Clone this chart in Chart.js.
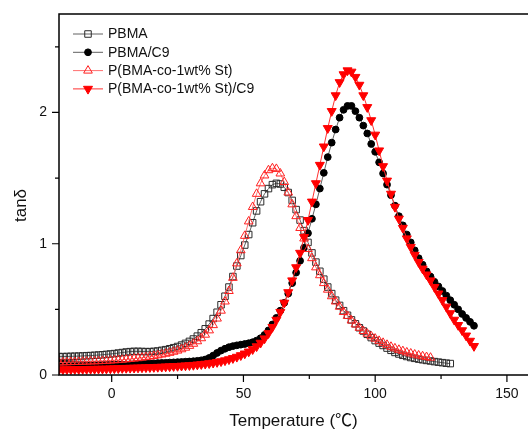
<!DOCTYPE html>
<html>
<head>
<meta charset="utf-8">
<script src="https://cdn.jsdelivr.net/npm/chart.js@4.4.1/dist/chart.umd.min.js"></script>
<style>
html, body { margin: 0; padding: 0; background: #fff; overflow: hidden; }
#wrap { width: 528px; height: 432px; }
</style>
</head>
<body>
<div id="wrap"><canvas id="grafico" width="528" height="432"></canvas></div>
<script>
// temperatura (°C), passo de ~1.5 como
const temperaturas = [
  -20, -18.5, -17, -15.5, -14, -12.5, -11, -9.5, -8, -6.5,
  -5, -3.5, -2, -0.5, 1, 2.5, 4, 5.5, 7, 8.5,
  10, 11.5, 13, 14.5, 16, 17.5, 19, 20.5, 22, 23.5,
  25, 26.5, 28, 29.5, 31, 32.5, 34, 35.5, 37, 38.5,
  40, 41.5, 43, 44.5, 46, 47.5, 49, 50.5, 52, 53.5,
  55, 56.5, 58, 59.5, 61, 62.5, 64, 65.5, 67, 68.5,
  70, 71.5, 73, 74.5, 76, 77.5, 79, 80.5, 82, 83.5,
  85, 86.5, 88, 89.5, 91, 92.5, 94, 95.5, 97, 98.5,
  100, 101.5, 103, 104.5, 106, 107.5, 109, 110.5, 112, 113.5,
  115, 116.5, 118, 119.5, 121, 122.5, 124, 125.5, 127, 128.5,
  130, 131.5, 133, 134.5, 136, 137.5
];

const pbma = [
  0.140, 0.140, 0.141, 0.142, 0.143, 0.144, 0.145, 0.147, 0.148, 0.150,
  0.152, 0.154, 0.157, 0.160, 0.163, 0.167, 0.171, 0.175, 0.178, 0.180,
  0.180, 0.179, 0.178, 0.178, 0.180, 0.183, 0.188, 0.193, 0.200, 0.208,
  0.217, 0.228, 0.241, 0.256, 0.274, 0.296, 0.322, 0.352, 0.388, 0.430,
  0.478, 0.535, 0.600, 0.670, 0.750, 0.830, 0.910, 0.990, 1.070, 1.160,
  1.250, 1.320, 1.380, 1.420, 1.450, 1.460, 1.455, 1.430, 1.390, 1.330,
  1.260, 1.180, 1.100, 1.010, 0.930, 0.860, 0.790, 0.730, 0.670, 0.620,
  0.570, 0.530, 0.490, 0.455, 0.420, 0.390, 0.360, 0.335, 0.310, 0.285,
  0.262, 0.243, 0.225, 0.205, 0.188, 0.172, 0.160, 0.150, 0.141, 0.133,
  0.127, 0.121, 0.116, 0.111, 0.107, 0.102, 0.098, 0.094, 0.090, 0.087
];

const pbmaC9 = [
  0.086, 0.085, 0.084, 0.083, 0.082, 0.081, 0.080, 0.079, 0.079, 0.078,
  0.078, 0.078, 0.078, 0.078, 0.079, 0.079, 0.080, 0.081, 0.082, 0.083,
  0.084, 0.085, 0.087, 0.088, 0.089, 0.091, 0.092, 0.093, 0.095, 0.096,
  0.098, 0.099, 0.101, 0.103, 0.105, 0.108, 0.112, 0.118, 0.130, 0.148,
  0.168, 0.186, 0.200, 0.212, 0.220, 0.226, 0.231, 0.236, 0.242, 0.250,
  0.262, 0.280, 0.305, 0.340, 0.385, 0.435, 0.490, 0.550, 0.620, 0.700,
  0.780, 0.870, 0.970, 1.080, 1.190, 1.300, 1.420, 1.540, 1.660, 1.770,
  1.870, 1.960, 2.020, 2.050, 2.050, 2.010, 1.960, 1.900, 1.840, 1.760,
  1.700, 1.620, 1.535, 1.450, 1.370, 1.290, 1.210, 1.140, 1.070, 1.010,
  0.950, 0.890, 0.840, 0.790, 0.750, 0.710, 0.675, 0.640, 0.605, 0.570,
  0.535, 0.500, 0.465, 0.435, 0.405, 0.375
];

const pbmaSt = [
  0.095, 0.096, 0.097, 0.098, 0.099, 0.100, 0.101, 0.102, 0.103, 0.104,
  0.105, 0.107, 0.108, 0.110, 0.112, 0.114, 0.116, 0.119, 0.122, 0.125,
  0.128, 0.132, 0.136, 0.140, 0.145, 0.150, 0.156, 0.162, 0.169, 0.177,
  0.186, 0.196, 0.208, 0.222, 0.238, 0.257, 0.280, 0.307, 0.340, 0.380,
  0.430, 0.490, 0.560, 0.640, 0.740, 0.850, 0.950, 1.060, 1.170, 1.280,
  1.380, 1.460, 1.520, 1.560, 1.575, 1.570, 1.535, 1.470, 1.390, 1.300,
  1.210, 1.120, 1.040, 0.960, 0.890, 0.820, 0.760, 0.700, 0.650, 0.600,
  0.560, 0.520, 0.480, 0.450, 0.415, 0.385, 0.360, 0.335, 0.315, 0.295,
  0.277, 0.260, 0.245, 0.230, 0.215, 0.203, 0.192, 0.182, 0.172, 0.164,
  0.156, 0.149, 0.143, 0.137, 0.132
];

const pbmaStC9 = [
  0.042, 0.042, 0.043, 0.043, 0.044, 0.044, 0.045, 0.045, 0.046, 0.046,
  0.047, 0.047, 0.048, 0.049, 0.050, 0.051, 0.052, 0.053, 0.054, 0.055,
  0.056, 0.057, 0.058, 0.059, 0.060, 0.061, 0.062, 0.064, 0.065, 0.067,
  0.068, 0.070, 0.072, 0.074, 0.076, 0.079, 0.082, 0.085, 0.089, 0.093,
  0.098, 0.104, 0.111, 0.119, 0.128, 0.138, 0.150, 0.163, 0.178, 0.196,
  0.218, 0.245, 0.278, 0.318, 0.365, 0.420, 0.480, 0.550, 0.630, 0.720,
  0.820, 0.930, 1.050, 1.180, 1.320, 1.460, 1.600, 1.740, 1.880, 2.010,
  2.130, 2.230, 2.290, 2.320, 2.310, 2.270, 2.210, 2.130, 2.040, 1.940,
  1.830, 1.710, 1.590, 1.480, 1.380, 1.280, 1.190, 1.120, 1.040, 0.975,
  0.915, 0.860, 0.810, 0.765, 0.720, 0.670, 0.620, 0.570, 0.520, 0.470,
  0.420, 0.380, 0.340, 0.300, 0.260, 0.220
];

const nomes = ['PBMA', 'PBMA/C9', 'P(BMA-co-1wt% St)', 'P(BMA-co-1wt% St)/C9'];
const xTicks = [0, 50, 100, 150];
const xMinor = [25, 75, 125];
const yTicks = [0, 1, 2];
const yMinor = [0.5, 1.5, 2.5];

const fonte = "'Liberation Sans', Arial, 'Noto Sans CJK SC', sans-serif";

const estilos = [
  { linha: '#606060', ponto: 'rect', raio: 4.6, fundo: 'rgba(0,0,0,0)', borda: '#2a2a2a', rot: 0 },
  { linha: '#606060', ponto: 'circle', raio: 3.4, fundo: '#000000', borda: '#000000', rot: 0 },
  { linha: '#ff7070', ponto: 'triangle', raio: 5, fundo: 'rgba(0,0,0,0)', borda: '#ff2020', rot: 0 },
  { linha: '#ff3030', ponto: 'triangle', raio: 5.2, fundo: '#ff0000', borda: '#ff0000', rot: 180 }
];

function pontos(valores) {
  return valores.map((v, i) => ({ x: temperaturas[i], y: v }));
}

const series = [pbma, pbmaC9, pbmaSt, pbmaStC9];

const datasets = series.map((valores, i) => ({
  label: nomes[i],
  data: pontos(valores),
  borderColor: estilos[i].linha,
  borderWidth: 1,
  pointStyle: estilos[i].ponto,
  pointRadius: estilos[i].raio,
  pointRotation: estilos[i].rot,
  pointBackgroundColor: estilos[i].fundo,
  pointBorderColor: estilos[i].borda,
  pointBorderWidth: 1,
  tension: 0,
  order: 3 - i
}));

function desenharMarcador(ctx, est, x, y) {
  ctx.save();
  ctx.fillStyle = est.fundo;
  ctx.strokeStyle = est.borda;
  ctx.lineWidth = 1;
  ctx.beginPath();
  const r = est.raio;
  if (est.ponto === 'rect') {
    const s = Math.SQRT1_2 * r;
    ctx.rect(x - s, y - s, 2 * s, 2 * s);
  } else if (est.ponto === 'circle') {
    ctx.arc(x, y, r, 0, Math.PI * 2);
  } else {
    let rad = est.rot * Math.PI / 180;
    ctx.moveTo(x + Math.sin(rad) * r, y - Math.cos(rad) * r);
    rad += Math.PI * 2 / 3;
    ctx.lineTo(x + Math.sin(rad) * r, y - Math.cos(rad) * r);
    rad += Math.PI * 2 / 3;
    ctx.lineTo(x + Math.sin(rad) * r, y - Math.cos(rad) * r);
    ctx.closePath();
  }
  ctx.fill();
  ctx.stroke();
  ctx.restore();
}

const moldura = {
  id: 'moldura',
  afterDraw(chart) {
    const { ctx, chartArea: a, scales } = chart;
    ctx.save();
    ctx.strokeStyle = '#000';
    ctx.lineWidth = 1.5;
    // esquerda, topo e base (a borda direita fica fora da imagem)
    ctx.beginPath();
    ctx.moveTo(a.right + 2, a.top);
    ctx.lineTo(a.left, a.top);
    ctx.lineTo(a.left, a.bottom);
    ctx.lineTo(a.right + 2, a.bottom);
    ctx.stroke();

    // marcas dos eixos, para fora
    ctx.lineWidth = 1.2;
    ctx.beginPath();
    xTicks.forEach(v => { const p = scales.x.getPixelForValue(v); ctx.moveTo(p, a.bottom); ctx.lineTo(p, a.bottom + 7); });
    xMinor.forEach(v => { const p = scales.x.getPixelForValue(v); ctx.moveTo(p, a.bottom); ctx.lineTo(p, a.bottom + 4); });
    yTicks.forEach(v => { const p = scales.y.getPixelForValue(v); ctx.moveTo(a.left, p); ctx.lineTo(a.left - 7, p); });
    yMinor.forEach(v => { const p = scales.y.getPixelForValue(v); ctx.moveTo(a.left, p); ctx.lineTo(a.left - 4, p); });
    ctx.stroke();

    // título do eixo y
    ctx.fillStyle = '#111';
    ctx.font = '17px ' + fonte;
    ctx.textAlign = 'center';
    ctx.textBaseline = 'middle';
    ctx.translate(21.5, 205.5);
    ctx.rotate(-Math.PI / 2);
    ctx.fillText('tanδ', 0, 0);
    ctx.restore();

    // legenda
    ctx.save();
    ctx.font = '14px ' + fonte;
    ctx.textAlign = 'left';
    ctx.textBaseline = 'middle';
    const ys = [34, 52.3, 70.6, 88.9];
    nomes.forEach((nome, i) => {
      const est = estilos[i];
      ctx.strokeStyle = est.linha;
      ctx.lineWidth = 1;
      ctx.beginPath();
      ctx.moveTo(73, ys[i]);
      ctx.lineTo(103, ys[i]);
      ctx.stroke();
      desenharMarcador(ctx, est, 88, ys[i]);
      ctx.fillStyle = '#111';
      ctx.fillText(nome, 108, ys[i] + 0.5);
    });
    ctx.restore();
  }
};

const ctx = document.getElementById('grafico').getContext('2d');
new Chart(ctx, {
  type: 'line',
  data: { datasets },
  options: {
    responsive: false,
    devicePixelRatio: 1,
    animation: false,
    layout: { autoPadding: false, padding: { top: 14, right: 0, left: 0, bottom: 0 } },
    plugins: {
      legend: { display: false },
      tooltip: { enabled: false }
    },
    scales: {
      x: {
        type: 'linear',
        min: -20,
        max: 158,
        grid: { display: false, drawTicks: false },
        border: { display: false },
        afterBuildTicks: s => { s.ticks = xTicks.map(v => ({ value: v })); },
        afterFit: s => { s.height = 57; s.paddingLeft = 0; s.paddingRight = 0; },
        ticks: { padding: 11, color: '#111', autoSkip: false, maxRotation: 0, font: { family: fonte, size: 14 } },
        title: {
          display: true,
          text: 'Temperature (℃)',
          color: '#111',
          font: { family: fonte, size: 17 },
          padding: { top: 0, bottom: 0 }
        }
      },
      y: {
        min: 0,
        max: 2.75,
        grid: { display: false, drawTicks: false },
        border: { display: false },
        afterBuildTicks: s => { s.ticks = yTicks.map(v => ({ value: v })); },
        afterFit: s => { s.width = 59; s.paddingTop = 0; s.paddingBottom = 0; },
        ticks: { padding: 12, color: '#111', font: { family: fonte, size: 14 } }
      }
    }
  },
  plugins: [moldura]
});
</script>
</body>
</html>
